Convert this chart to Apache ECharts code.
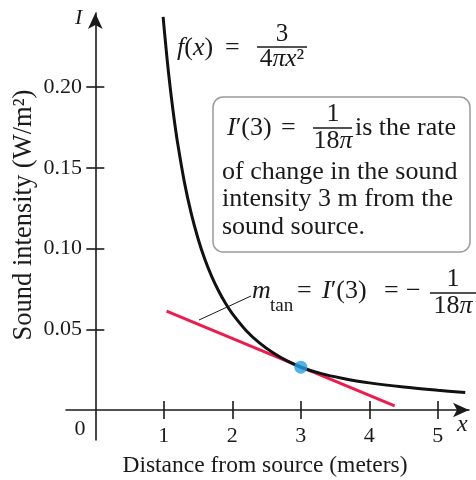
<!DOCTYPE html>
<html>
<head>
<meta charset="utf-8">
<script src="https://cdn.jsdelivr.net/npm/echarts@6/dist/echarts.min.js"></script>
<style>
  html, body { margin: 0; padding: 0; background: #fff; }
  #chart { width: 476px; height: 480px; }
</style>
</head>
<body>
<div id="chart"></div>
<script>
// Sound intensity I = f(x) against distance from the source
const curveX = [0.99, 1.0, 1.05, 1.1, 1.15, 1.2, 1.3, 1.4, 1.5, 1.6, 1.7, 1.8, 1.9, 2.0, 2.2, 2.4, 2.6, 2.8, 3.0, 3.3, 3.6, 4.0, 4.5, 5.0, 5.4];
const curveY = [0.2436, 0.2387, 0.2165, 0.1973, 0.1805, 0.1658, 0.1412, 0.1218, 0.1061, 0.0932, 0.0826, 0.0737, 0.0661, 0.0597, 0.0493, 0.0414, 0.0353, 0.0304, 0.0265, 0.0225, 0.0197, 0.0168, 0.0142, 0.0122, 0.0108];

// Tangent line at x = 3 and the point of tangency
const tangentX = [1.04, 4.37];
const tangentY = [0.0612, 0.0025];
const pointX = [3];
const pointY = [0.0265];

// Axis ticks
const xTicks = [1, 2, 3, 4, 5];
const yTicks = [0.05, 0.10, 0.15, 0.20];

const xTitle = 'Distance from source (meters)';
const yTitle = 'Sound intensity (W/m\u00B2)';

const serif = '"Liberation Serif", "Times New Roman", serif';
const ink = '#1a1a1a';
const red = '#ee1c4e';
const blue = '#1fa3de';

const zip = (xs, ys) => xs.map((x, i) => [x, ys[i]]);

// Plain text placed by its alphabetic baseline
function txt(text, x, base, size, opts) {
  opts = opts || {};
  return {
    type: 'text', z: 20, x: x, y: base - 0.34 * size,
    rotation: opts.rotation || 0,
    style: {
      text: text, fill: ink, align: opts.align || 'left', verticalAlign: 'middle',
      font: (opts.italic ? 'italic ' : '') + size + 'px ' + serif
    }
  };
}
// Mixed italic / upright text
function rich(text, x, base, size, align) {
  const st = { fontSize: size, fontFamily: serif, fill: ink };
  return {
    type: 'text', z: 20, x: x, y: base - 0.34 * size,
    style: {
      text: text, align: align || 'left', verticalAlign: 'middle',
      fontSize: size, fontFamily: serif, fill: ink,
      rich: { i: Object.assign({ fontStyle: 'italic' }, st), n: st }
    }
  };
}
function bar(x1, x2, y) {
  return { type: 'line', z: 20, shape: { x1: x1, y1: y, x2: x2, y2: y }, style: { stroke: ink, lineWidth: 1.4 } };
}

const axisLineStyle = { color: ink, width: 1.6 };

// Axis labels sit at the grid edge, so the margins pull them back to the zero lines
const option = {
  animation: false,
  backgroundColor: '#fff',
  grid: { left: 66, right: 7, top: 13, bottom: 40, containLabel: false, outerBoundsMode: 'none' },
  xAxis: [
    {
      type: 'value', min: -0.428, max: 5.455,
      axisLine: { onZero: true, symbol: ['none', 'arrow'], symbolSize: [11, 16], lineStyle: axisLineStyle },
      axisTick: { customValues: xTicks, length: 9, lineStyle: axisLineStyle },
      axisLabel: { customValues: xTicks, fontFamily: serif, fontSize: 22, color: ink, margin: -15 },
      splitLine: { show: false }
    },
    {
      type: 'value', min: -0.428, max: 5.455, position: 'bottom',
      axisLine: { show: false, onZero: true },
      axisTick: { customValues: xTicks, inside: true, length: 9, lineStyle: axisLineStyle },
      axisLabel: { show: false },
      splitLine: { show: false }
    }
  ],
  yAxis: [
    {
      type: 'value', min: -0.0186, max: 0.246,
      axisLine: { onZero: true, symbol: ['none', 'arrow'], symbolSize: [11, 16], lineStyle: axisLineStyle },
      axisTick: { customValues: yTicks, length: 9, lineStyle: axisLineStyle },
      axisLabel: { customValues: yTicks, fontFamily: serif, fontSize: 22, color: ink, margin: -16,
                   formatter: v => v.toFixed(2) },
      splitLine: { show: false }
    },
    {
      type: 'value', min: -0.0186, max: 0.246, position: 'left',
      axisLine: { show: false, onZero: true },
      axisTick: { customValues: yTicks, inside: true, length: 9, lineStyle: axisLineStyle },
      axisLabel: { show: false },
      splitLine: { show: false }
    }
  ],
  series: [
    {
      type: 'line', data: zip(tangentX, tangentY), showSymbol: false, silent: true,
      lineStyle: { color: red, width: 3 }, z: 3
    },
    {
      type: 'line', data: zip(curveX, curveY), showSymbol: false, silent: true,
      smooth: 0.35,
      lineStyle: { color: '#111', width: 3 }, z: 4
    },
    {
      type: 'scatter', data: zip(pointX, pointY), symbolSize: 13,
      itemStyle: { color: blue }, z: 5
    }
  ],
  graphic: [
    // axis letters and origin
    txt('I', 75, 26, 22, { italic: true }),
    txt('x', 457, 433, 24, { italic: true }),
    txt('0', 80, 437, 22, { align: 'center' }),
    // axis titles
    txt(xTitle, 265, 474, 23.5, { align: 'center' }),
    { type: 'text', z: 20, x: 24, y: 215, rotation: Math.PI / 2,
      style: { text: yTitle, fill: ink, align: 'center', verticalAlign: 'middle', font: '26.5px ' + serif } },

    // f(x) = 3 / (4 pi x^2)
    rich('{i|f}{n|(}{i|x}{n|)}', 177, 57, 26),
    txt('=', 225, 57, 26),
    txt('3', 282, 43, 25, { align: 'center' }),
    bar(257, 307, 47),
    rich('{n|4}{i|\u03C0x}{n|\u00B2}', 282, 68, 25.5, 'center'),

    // explanation box
    { type: 'rect', z: 15, shape: { x: 213, y: 97, width: 257, height: 155, r: 10 },
      style: { fill: '#fff', stroke: '#9b9b9b', lineWidth: 1.5 } },
    rich('{i|I}{n|\u2032(3)}', 227, 137, 26),
    txt('=', 281, 137, 26),
    txt('1', 333, 123, 26, { align: 'center' }),
    bar(313, 352, 128),
    rich('{n|18}{i|\u03C0}', 333, 150, 26, 'center'),
    txt('is the rate', 355, 137, 26),
    txt('of change in the sound', 222, 181, 26),
    txt('intensity 3 m from the', 222, 208, 26),
    txt('sound source.', 222, 236, 26),

    // slope annotation
    { type: 'line', z: 20, shape: { x1: 199, y1: 320, x2: 251, y2: 296 }, style: { stroke: ink, lineWidth: 1 } },
    txt('m', 252, 300, 26, { italic: true }),
    txt('tan', 270, 312, 19),
    txt('=', 297, 300, 26),
    rich('{i|I}{n|\u2032(3)}', 322, 300, 26),
    txt('=', 384, 300, 26),
    txt('\u2212', 406, 300, 26),
    txt('1', 453, 288, 26, { align: 'center' }),
    bar(430, 476, 293),
    rich('{n|18}{i|\u03C0}', 453, 315, 26, 'center')
  ]
};

const chart = echarts.init(document.getElementById('chart'), null, { renderer: 'canvas' });
chart.setOption(option);
</script>
</body>
</html>
